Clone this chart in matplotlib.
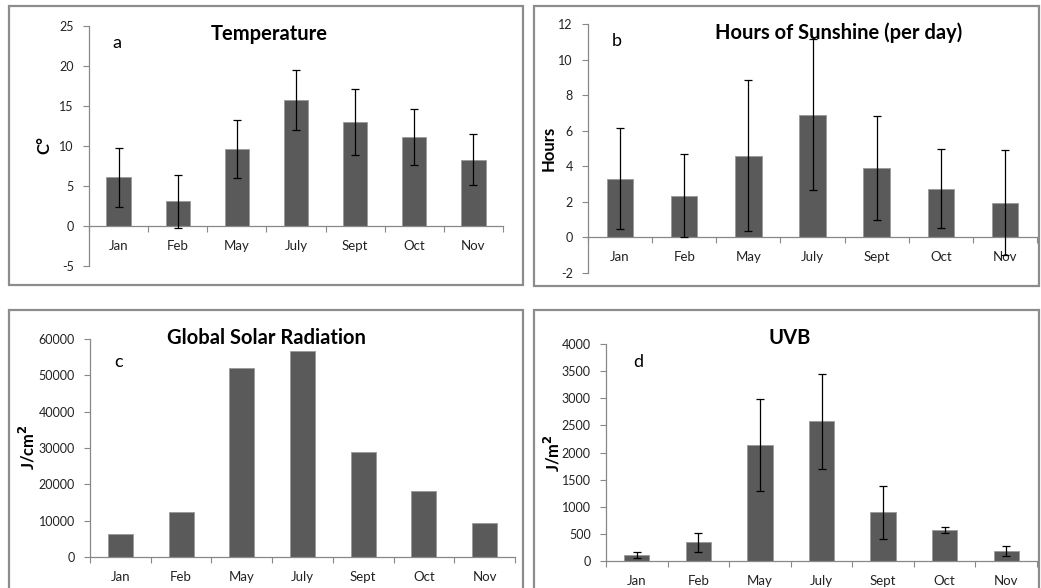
#!/usr/bin/env python3
"""Four-panel monthly climate summary (temperature, sunshine, radiation, UVB)."""
import matplotlib

matplotlib.use("Agg")
import matplotlib.pyplot as plt
from matplotlib.patches import Rectangle

plt.rcParams["font.family"] = ["Lato", "DejaVu Sans"]

W, H = 1041, 588

months = ["Jan", "Feb", "May", "July", "Sept", "Oct", "Nov"]

temp_mean = [6.1, 3.1, 9.6, 15.75, 13.0, 11.1, 8.3]
temp_err = [3.7, 3.3, 3.6, 3.8, 4.1, 3.5, 3.15]

sun_mean = [3.3, 2.35, 4.6, 6.9, 3.9, 2.75, 1.95]
sun_err = [2.85, 2.35, 4.25, 4.25, 2.9, 2.2, 2.95]

solar_mean = [6400, 12300, 51900, 56800, 28800, 18300, 9300]

uvb_mean = [117, 345, 2135, 2572, 898, 572, 185]
uvb_err = [55, 175, 845, 870, 487, 62, 88]

BAR = "#5a5a5a"
AXIS = "#888888"
TXT = "#222222"


def fx(x):
    return x / W


def fy(y):
    return 1 - y / H


def make_axes(fig, x0, x1, ytop, ybot):
    return fig.add_axes([fx(x0), fy(ybot), fx(x1) - fx(x0), fy(ytop) - fy(ybot)])


def style(ax, ylim, yticks):
    ax.set_xlim(-0.5, len(months) - 0.5)
    ax.set_ylim(*ylim)
    ax.set_yticks(yticks)
    ax.set_yticklabels([str(t) for t in yticks], fontsize=9, color=TXT)
    for side in ("top", "right"):
        ax.spines[side].set_visible(False)
    ax.spines["bottom"].set_position(("data", 0))
    for side in ("left", "bottom"):
        ax.spines[side].set_color(AXIS)
        ax.spines[side].set_linewidth(0.9)
    # Excel style: tick marks between categories, labels centred on bars
    ax.set_xticks([i - 0.5 for i in range(len(months) + 1)])
    ax.set_xticklabels([])
    ax.set_xticks(range(len(months)), minor=True)
    ax.set_xticklabels(months, minor=True, fontsize=9.5, color=TXT)
    ax.tick_params(axis="x", which="major", direction="out", length=4, color=AXIS)
    ax.tick_params(axis="x", which="minor", length=0, pad=10)
    ax.tick_params(axis="y", direction="out", length=4, color=AXIS, pad=7)
    ax.patch.set_alpha(0)


def bars(ax, values, errors=None):
    x = range(len(months))
    ax.bar(x, values, width=0.41, color=BAR, edgecolor="#9a9a9a", linewidth=0.6, zorder=2)
    if errors is not None:
        ax.errorbar(x, values, yerr=errors, fmt="none", ecolor="black",
                    elinewidth=0.9, capsize=3.2, capthick=0.9, zorder=3)


fig = plt.figure(figsize=(W / 100, H / 100), dpi=100)

# panel frames
for (x0, y0, x1, y1) in [(9, 6, 523, 285), (534, 6, 1039, 286),
                         (9, 310, 523, 600), (534, 310, 1039, 600)]:
    fig.patches.append(Rectangle((fx(x0), fy(y1)), fx(x1) - fx(x0), fy(y0) - fy(y1),
                                 transform=fig.transFigure, fill=False,
                                 edgecolor="#8c8c8c", linewidth=1.6))

ax_a = make_axes(fig, 89, 503, 26, 266)
bars(ax_a, temp_mean, temp_err)
style(ax_a, (-5, 25), list(range(-5, 26, 5)))

ax_b = make_axes(fig, 588, 1037, 24, 273)
bars(ax_b, sun_mean, sun_err)
style(ax_b, (-2, 12), list(range(-2, 13, 2)))

ax_c = make_axes(fig, 90, 515, 339, 557)
bars(ax_c, solar_mean)
style(ax_c, (0, 60000), list(range(0, 60001, 10000)))

ax_d = make_axes(fig, 606, 1037, 344, 561)
bars(ax_d, uvb_mean, uvb_err)
style(ax_d, (0, 4000), list(range(0, 4001, 500)))

# titles
title_kw = dict(fontsize=14.5, fontweight="bold", ha="center", va="center")
fig.text(fx(269), fy(34), "Temperature", **title_kw)
fig.text(fx(839), fy(33), "Hours of Sunshine (per day)", **title_kw)
fig.text(fx(266), fy(338), "Global Solar Radiation", **title_kw)
fig.text(fx(790), fy(338), "UVB", **title_kw)

# panel letters
for lbl, x, y in [("a", 117, 43), ("b", 617, 41), ("c", 119, 362), ("d", 638, 362)]:
    fig.text(fx(x), fy(y), lbl, fontsize=13, ha="center", va="center")

# y labels
ylab_kw = dict(fontsize=12, fontweight="bold", rotation=90, ha="center", va="center")
fig.text(fx(44), fy(145), "C°", **ylab_kw)
fig.text(fx(549), fy(148), "Hours", **ylab_kw)
fig.text(fx(27), fy(447), "J/cm$^\\mathbf{2}$", **ylab_kw)
fig.text(fx(552), fy(453), "J/m$^\\mathbf{2}$", **ylab_kw)

fig.savefig("out.png", dpi=100, facecolor="white")
